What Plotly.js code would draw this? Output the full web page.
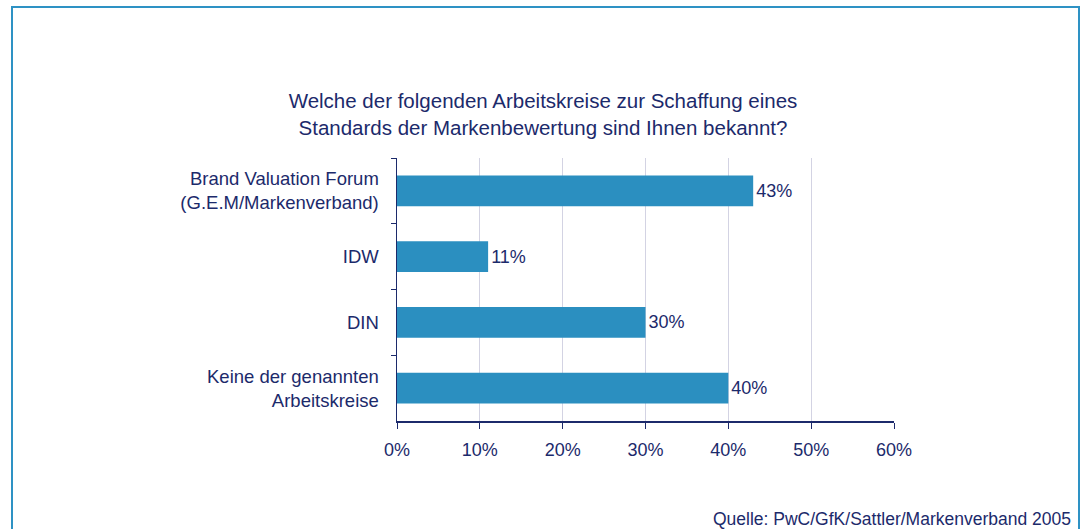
<!DOCTYPE html>
<html>
<head>
<meta charset="utf-8">
<script src="https://cdn.plot.ly/plotly-3.0.1.min.js"></script>
<style>
html,body{margin:0;padding:0;background:#fff;}
#chart{width:1086px;height:529px;}
</style>
</head>
<body>
<div id="chart"></div>
<script>
const categories = [
  "Brand Valuation Forum<br>(G.E.M/Markenverband)",
  "IDW",
  "DIN",
  "Keine der genannten<br>Arbeitskreise"
];
const values = [0.43, 0.11, 0.30, 0.40];
const valueLabels = ["43%", "11%", "30%", "40%"];
const xTickVals = [0, 0.1, 0.2, 0.3, 0.4, 0.5, 0.6];
const xTickText = ["0%", "10%", "20%", "30%", "40%", "50%", "60%"];
const titleText = "Welche der folgenden Arbeitskreise zur Schaffung eines<br>Standards der Markenbewertung sind Ihnen bekannt?";
const sourceText = "Quelle: PwC/GfK/Sattler/Markenverband 2005";

const navy = "#1c2a6b";
const barColor = "#2b8fc0";
const fontFam = "Liberation Sans, Arial, sans-serif";

const trace = {
  type: "bar",
  orientation: "h",
  y: categories,
  x: values,
  text: valueLabels,
  textposition: "outside",
  cliponaxis: false,
  textfont: {family: fontFam, size: 18, color: navy},
  marker: {color: barColor, line: {width: 0}},
  hoverinfo: "none"
};

const layout = {
  width: 1086,
  height: 529,
  margin: {l: 397, r: 192, t: 158, b: 108, pad: 0},
  paper_bgcolor: "#ffffff",
  plot_bgcolor: "#ffffff",
  showlegend: false,
  bargap: 0.53,
  font: {family: fontFam, color: navy, size: 18},
  title: {
    text: titleText,
    font: {family: fontFam, size: 20.5, color: navy},
    x: 0.5, xref: "container", xanchor: "center",
    y: 1 - 108/529, yref: "container", yanchor: "top"
  },
  xaxis: {
    range: [0, 0.6],
    tickvals: xTickVals,
    ticktext: xTickText,
    showgrid: true,
    gridcolor: "#d3d3e3",
    gridwidth: 1,
    zeroline: false,
    showline: true,
    linecolor: navy,
    linewidth: 1.5,
    ticks: "outside",
    ticklen: 6,
    tickcolor: navy,
    ticklabelstandoff: 6,
    tickfont: {family: fontFam, size: 18, color: navy},
    fixedrange: true
  },
  yaxis: {
    type: "category",
    categoryorder: "array",
    categoryarray: categories,
    autorange: "reversed",
    showgrid: false,
    zeroline: false,
    showline: true,
    linecolor: navy,
    linewidth: 1.5,
    ticks: "outside",
    tickson: "boundaries",
    ticklen: 5,
    tickcolor: navy,
    ticklabelstandoff: 13,
    tickfont: {family: fontFam, size: 18.5, color: navy},
    fixedrange: true
  },
  shapes: [{
    type: "rect",
    xref: "paper", yref: "paper",
    x0: (12 - 397) / 497, x1: (1079 - 397) / 497,
    y0: (421 - 560) / 263, y1: (421 - 7) / 263,
    line: {color: "#2e92c4", width: 2},
    fillcolor: "rgba(0,0,0,0)",
    layer: "below"
  }],
  annotations: [{
    text: sourceText,
    xref: "paper", yref: "paper",
    x: (711 - 397) / 497, y: (421 - 531) / 263,
    xanchor: "left", yanchor: "bottom",
    showarrow: false,
    font: {family: fontFam, size: 17.5, color: navy}
  }]
};

Plotly.newPlot("chart", [trace], layout, {displayModeBar: false, staticPlot: true});
</script>
</body>
</html>
